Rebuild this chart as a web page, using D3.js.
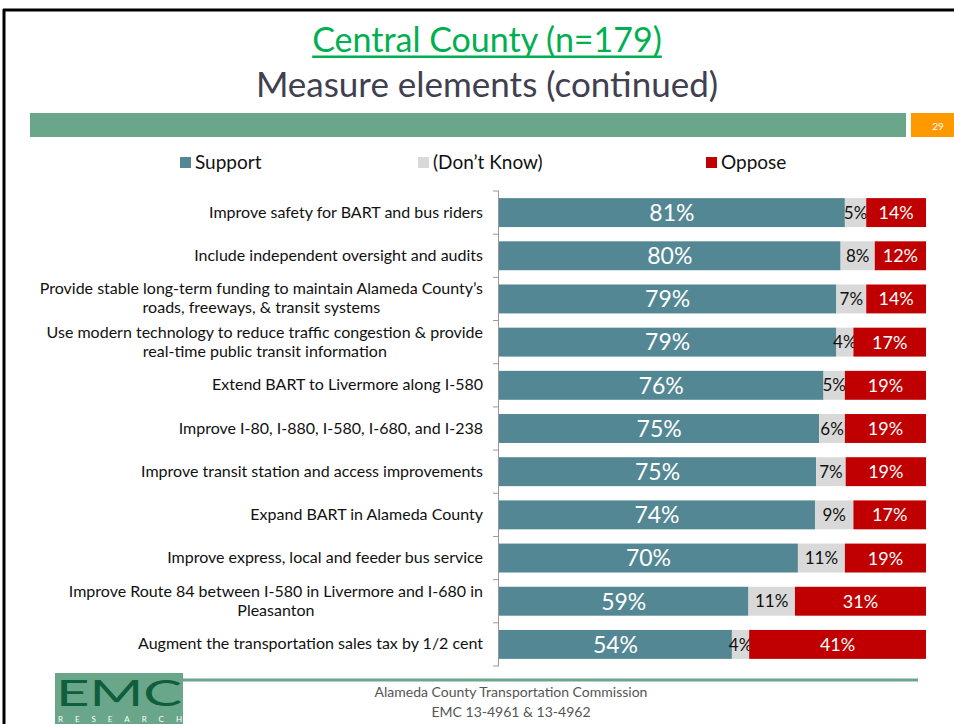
<!DOCTYPE html>
<html>
<head>
<meta charset="utf-8">
<script src="https://cdn.jsdelivr.net/npm/d3@7"></script>
<style>
  body { margin: 0; background: #fff; }
  svg { display: block; }
  text { font-family: Lato, "Open Sans", sans-serif; }
</style>
</head>
<body>
<div id="graphique"></div>
<script>
// Donnees de la diapo
const categories = [
  "Improve safety for BART and bus riders",
  "Include independent oversight and audits",
  "Provide stable long-term funding to maintain Alameda County's|roads, freeways, & transit systems",
  "Use modern technology to reduce traffic congestion & provide|real-time public transit information",
  "Extend BART to Livermore along I-580",
  "Improve I-80, I-880, I-580, I-680, and I-238",
  "Improve transit station and access improvements",
  "Expand BART in Alameda County",
  "Improve express, local and feeder bus service",
  "Improve Route 84 between I-580 in Livermore and I-680 in|Pleasanton",
  "Augment the transportation sales tax by 1/2 cent"
];
const support = [81, 80, 79, 79, 76, 75, 75, 74, 70, 59, 54];
const dontKnow = [5, 8, 7, 4, 5, 6, 7, 9, 11, 11, 4];
const oppose = [14, 12, 14, 17, 19, 19, 19, 17, 19, 31, 41];
const series = ["Support", "(Don\u2019t Know)", "Oppose"];
const couleurs = ["#538794", "#D9D9D9", "#C00000"];
const couleursTexte = ["#fff", "#111", "#fff"];

const largeur = 954, hauteur = 724;
const svg = d3.select("#graphique").append("svg")
  .attr("width", largeur).attr("height", hauteur);

// Cadre de la diapo
svg.append("line").attr("x1", 4).attr("x2", 4).attr("y1", 9).attr("y2", hauteur)
  .attr("stroke", "#000").attr("stroke-width", 3);
svg.append("line").attr("x1", 3).attr("x2", largeur).attr("y1", 10).attr("y2", 10)
  .attr("stroke", "#000").attr("stroke-width", 3);

// Titres
const titre = svg.append("text").attr("x", 487).attr("y", 52)
  .attr("text-anchor", "middle").attr("font-size", 34).attr("fill", "#00B050")
  .text("Central County (n=179)");
const bb = titre.node().getBBox();
svg.append("rect").attr("x", bb.x).attr("y", 55.5).attr("width", bb.width).attr("height", 2.5)
  .attr("fill", "#00B050");
svg.append("text").attr("x", 487).attr("y", 97)
  .attr("text-anchor", "middle").attr("font-size", 35).attr("fill", "#404050")
  .text("Measure elements (continued)");

// Bande verte + numero de page
svg.append("rect").attr("x", 30).attr("y", 113).attr("width", 876).attr("height", 24).attr("fill", "#6AA78A");
svg.append("rect").attr("x", 911).attr("y", 113).attr("width", 43).attr("height", 24).attr("fill", "#FF9900");
svg.append("text").attr("x", 938).attr("y", 130).attr("text-anchor", "middle")
  .attr("font-size", 10).attr("fill", "#fff").text("29");

// Legende
const legendeX = [180, 418, 706];
const legende = svg.append("g").selectAll("g").data(series).join("g")
  .attr("transform", (d, i) => "translate(" + legendeX[i] + ",157)");
legende.append("rect").attr("width", 11).attr("height", 11).attr("fill", (d, i) => couleurs[i]);
legende.append("text").attr("x", 15).attr("y", 12).attr("font-size", 19).attr("fill", "#111").text(d => d);

// Graphique
const marge = {gauche: 499, droite: 926, haut: 191, bas: 666};
const donnees = categories.map((c, i) => ({cat: c, s0: support[i], s1: dontKnow[i], s2: oppose[i]}));
const pile = d3.stack().keys(["s0", "s1", "s2"]).offset(d3.stackOffsetExpand)(donnees);

const x = d3.scaleLinear().domain([0, 1]).range([marge.gauche, marge.droite]);
const y = d3.scaleBand().domain(categories).range([marge.haut, marge.bas]).paddingInner(0.33).paddingOuter(0.165);

pile.forEach((couche, k) => {
  const g = svg.append("g");
  g.selectAll("rect").data(couche).join("rect")
    .attr("x", d => x(d[0])).attr("width", d => x(d[1]) - x(d[0]))
    .attr("y", d => y(d.data.cat)).attr("height", y.bandwidth())
    .attr("fill", couleurs[k]);
  const taille = [23, 17, 18][k];
  g.selectAll("text").data(couche).join("text")
    .attr("x", d => (x(d[0]) + x(d[1])) / 2)
    .attr("y", d => y(d.data.cat) + y.bandwidth() / 2 + taille * 0.36)
    .attr("text-anchor", "middle").attr("font-size", taille).attr("fill", couleursTexte[k])
    .text(d => d.data["s" + k] + "%");
});

// Axe vertical avec petites graduations aux limites des bandes
const axe = svg.append("g");
axe.append("line").attr("x1", marge.gauche - 0.5).attr("x2", marge.gauche - 0.5)
  .attr("y1", marge.haut).attr("y2", marge.bas).attr("stroke", "#999");
const limites = d3.range(categories.length + 1).map(i => marge.haut + i * y.step());
axe.selectAll("line.tick").data(limites).join("line").attr("class", "tick")
  .attr("x1", marge.gauche - 6).attr("x2", marge.gauche).attr("y1", d => d).attr("y2", d => d)
  .attr("stroke", "#999");

// Libelles des categories
const libelles = svg.append("g").selectAll("text").data(categories).join("text")
  .attr("text-anchor", "end").attr("font-size", 16).attr("fill", "#111");
libelles.each(function(d) {
  const lignes = d.split("|");
  const centre = y(d) + y.bandwidth() / 2;
  const el = d3.select(this);
  lignes.forEach((l, j) => {
    const decal = (j - (lignes.length - 1) / 2) * 19;
    el.append("tspan")
      .attr("x", 483)
      .attr("y", centre + decal + 5)
      .text(l.replace("'", "\u2019"));
  });
  if (lignes.length > 1) {
    // deuxieme ligne centree sous la premiere
    const w = el.select("tspan").node().getComputedTextLength();
    el.selectAll("tspan").filter((t, j) => j > 0)
      .attr("text-anchor", "middle").attr("x", 483 - w / 2);
  }
});

// Pied de page
svg.append("line").attr("x1", 55).attr("x2", 918).attr("y1", 680).attr("y2", 680)
  .attr("stroke", "#6AA78A").attr("stroke-width", 3);
svg.append("rect").attr("x", 55).attr("y", 673).attr("width", 128).attr("height", 51).attr("fill", "#6AA78A");
svg.append("text").attr("x", 119).attr("y", 706).attr("text-anchor", "middle")
  .attr("font-family", "'DejaVu Serif', serif").attr("font-size", 37).attr("fill", "#0F5E3C")
  .attr("textLength", 126).attr("lengthAdjust", "spacingAndGlyphs").text("EMC");
svg.append("text").attr("x", 58).attr("y", 722).attr("font-size", 8).attr("fill", "#fff")
  .attr("textLength", 124).text("RESEARCH");
svg.append("text").attr("x", 511).attr("y", 697).attr("text-anchor", "middle")
  .attr("font-size", 14).attr("fill", "#555").text("Alameda County Transportation Commission");
svg.append("text").attr("x", 511).attr("y", 717).attr("text-anchor", "middle")
  .attr("font-size", 14).attr("fill", "#555").text("EMC 13-4961 & 13-4962");
</script>
</body>
</html>
